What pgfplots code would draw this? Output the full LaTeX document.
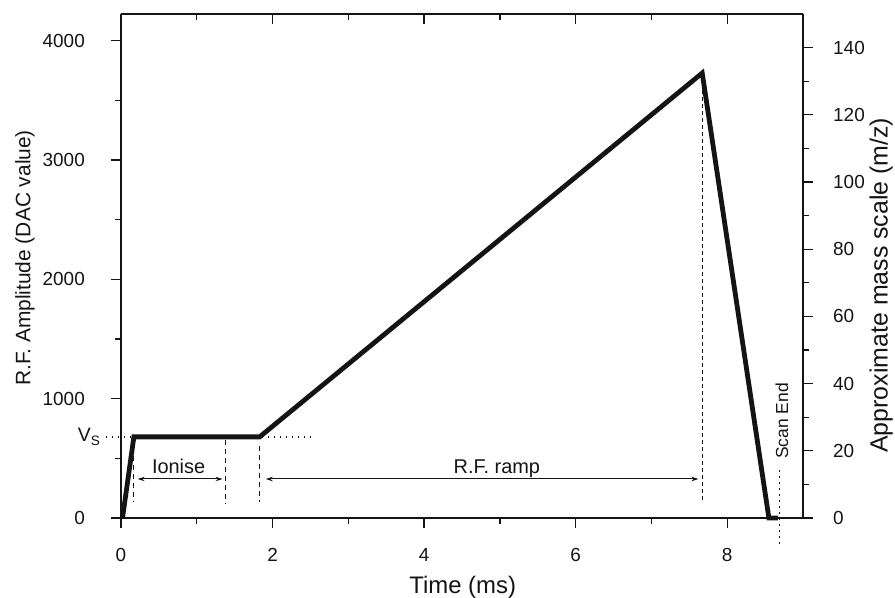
\documentclass[border=0pt]{standalone}
\usepackage{fontspec}
\setmainfont{Liberation Sans}
\usepackage{pgfplots}
\pgfplotsset{compat=1.18}
\usetikzlibrary{arrows.meta}

\definecolor{ink}{RGB}{20,20,20}

\pgfplotsset{
  common/.style={
    scale only axis, width=682bp, height=504bp,
    xmin=0, xmax=9,
    axis line style={line width=1.4bp, ink},
    every tick/.style={line width=1.3bp, ink},
    major tick length=10bp, minor tick length=6bp,
    tick label style={font=\fontsize{19}{19}\selectfont, ink, inner sep=0pt},
    /pgf/number format/assume math mode=true,
    /pgf/number format/set thousands separator={},
  },
}

\begin{document}
\begin{tikzpicture}
% right axis (mass scale)
\begin{axis}[common,
    hide x axis, axis y line*=right,
    ymin=0, ymax=150,
    ytick={0,20,...,140}, minor y tick num=1,
    tick align=outside,
    yticklabel shift=20bp,
    ylabel={Approximate mass scale (m/z)},
    ylabel style={font=\fontsize{25}{25}\selectfont, ink,
      at={(axis description cs:1.124,0.462)}, anchor=base},
]
\end{axis}
% top axis, inward ticks only
\begin{axis}[common,
    hide y axis, axis x line*=top,
    ymin=0, ymax=4225,
    xtick={0,2,...,8}, minor x tick num=1, xticklabels={},
    tick align=inside,
]
\end{axis}
% main axis
\begin{axis}[common, name=main,
    axis x line*=bottom, axis y line*=left,
    ymin=0, ymax=4225,
    xtick={0,2,...,8}, minor x tick num=1,
    ytick={0,1000,...,4000}, minor y tick num=1,
    tick align=outside,
    xticklabel shift=20bp,
    yticklabel shift=26bp,
    xlabel={Time (ms)},
    ylabel={R.F. Amplitude (DAC value)},
    xlabel style={font=\fontsize{24}{24}\selectfont, ink,
      at={(axis description cs:0.501,-0.149)}, anchor=base},
    ylabel style={font=\fontsize{21}{21}\selectfont, ink,
      at={(axis description cs:-0.133,0.516)}, anchor=base},
    clip=false,
]
% scan waveform
\addplot[ink, line width=4.8bp, line join=miter] coordinates {
(0.02,0) (0.17,680) (1.83,680) (7.67,3730) (8.55,0) (8.67,0)};
% V_S level
\addplot[ink, line width=1.3bp, dash pattern=on 1.5bp off 4.5bp] coordinates {(-0.2,680) (2.53,680)};
% markers
\addplot[ink, line width=1.2bp, dash pattern=on 5bp off 4bp] coordinates {(0.17,520) (0.17,137)};
\addplot[ink, line width=1.2bp, dash pattern=on 5bp off 4bp] coordinates {(1.38,650) (1.38,117)};
\addplot[ink, line width=1.2bp, dash pattern=on 5bp off 4bp] coordinates {(1.83,600) (1.83,137)};
\addplot[ink, line width=1.2bp, dash pattern=on 4bp off 3bp] coordinates {(7.67,3650) (7.67,150)};
\addplot[ink, line width=1.3bp, dash pattern=on 1.5bp off 4.5bp] coordinates {(8.69,400) (8.69,-240)};
% arrows
\draw[ink, line width=1bp, {Stealth[length=7bp,width=4.5bp]}-{Stealth[length=7bp,width=4.5bp]}]
  (axis cs:0.22,327) -- (axis cs:1.34,327);
\draw[ink, line width=1bp, {Stealth[length=7bp,width=4.5bp]}-{Stealth[length=7bp,width=4.5bp]}]
  (axis cs:1.91,327) -- (axis cs:7.62,327);
\node[font=\fontsize{20}{20}\selectfont, ink, anchor=base] at (axis cs:0.76,370) {Ionise};
\node[font=\fontsize{20}{20}\selectfont, ink, anchor=base] at (axis cs:4.96,370) {R.F. ramp};
\node[font=\fontsize{17.5}{17.5}\selectfont, ink, rotate=90] at (axis cs:8.72,814) {Scan End};
\node[font=\fontsize{19.5}{19.5}\selectfont, ink, anchor=east, inner sep=0pt] at (axis cs:-0.27,680) {V\textsubscript{S}};
\end{axis}
\pgfresetboundingbox
\path (main.south west) ++(-121bp,-80bp) rectangle ++(895bp,598bp);
\end{tikzpicture}
\end{document}
